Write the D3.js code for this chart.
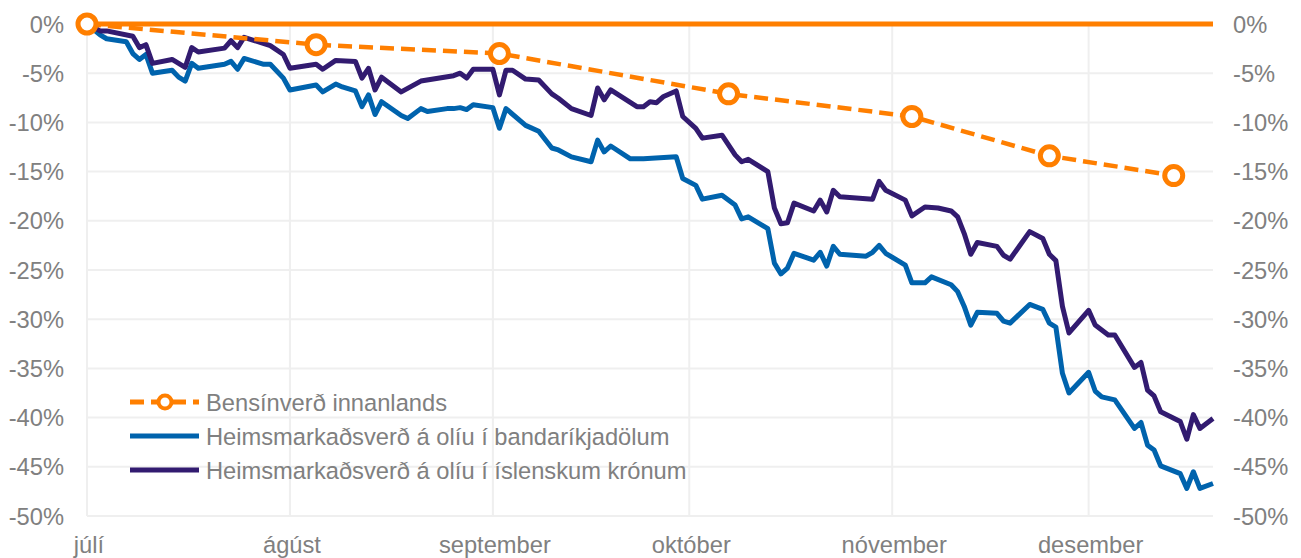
<!DOCTYPE html>
<html lang="is">
<head>
<meta charset="UTF-8">
<title>Olíuverð og bensínverð</title>
<script src="https://cdn.jsdelivr.net/npm/d3@7"></script>
<style>
  html, body { margin: 0; padding: 0; background: #fff; }
  svg { display: block; font-family: "Liberation Sans", Arial, sans-serif; }
  .lbl { fill: #808080; font-size: 23.7px; }
</style>
</head>
<body>
<div id="chart"></div>
<script>
// gögn lesin af myndinni (% breyting frá 1. júlí)
const year = 2014;
const monthLabels = ["júlí", "ágúst", "september", "október", "nóvember", "desember"];
const yTicks = [0, -5, -10, -15, -20, -25, -30, -35, -40, -45, -50];
const seriesNames = [
    "Bensínverð innanlands",
    "Heimsmarkaðsverð á olíu í bandaríkjadölum",
    "Heimsmarkaðsverð á olíu í íslenskum krónum"
];

const petrol = [
    ["07-01", 0], ["08-05", -2.1], ["09-02", -3.0], ["10-07", -7.1],
    ["11-04", -9.4], ["11-25", -13.4], ["12-14", -15.4]
];

const usd = [
    ["07-01", 0], ["07-03", -1.1], ["07-04", -1.5], ["07-07", -1.8], ["07-08", -3.0],
    ["07-09", -3.6], ["07-10", -3.1], ["07-11", -5.0], ["07-14", -4.7], ["07-15", -5.4],
    ["07-16", -5.8], ["07-17", -4.0], ["07-18", -4.5], ["07-22", -4.1], ["07-23", -3.8],
    ["07-24", -4.6], ["07-25", -3.5], ["07-28", -4.1], ["07-29", -4.1], ["07-31", -5.5],
    ["08-01", -6.7], ["08-05", -6.2], ["08-06", -6.9], ["08-08", -6.1], ["08-09", -6.4],
    ["08-11", -6.8], ["08-12", -8.4], ["08-13", -7.2], ["08-14", -9.2], ["08-15", -7.9],
    ["08-18", -9.3], ["08-19", -9.6], ["08-21", -8.6], ["08-22", -8.9], ["08-25", -8.6],
    ["08-26", -8.6], ["08-27", -8.5], ["08-28", -8.7], ["08-29", -8.2],
    ["09-01", -8.5], ["09-02", -10.6], ["09-03", -8.6], ["09-06", -10.3], ["09-08", -10.9],
    ["09-10", -12.6], ["09-11", -12.8], ["09-13", -13.5], ["09-16", -14.0], ["09-17", -11.8],
    ["09-18", -13.0], ["09-19", -12.4], ["09-22", -13.7], ["09-24", -13.7], ["09-29", -13.5],
    ["09-30", -15.7],
    ["10-02", -16.4], ["10-03", -17.8], ["10-06", -17.4], ["10-08", -18.4], ["10-09", -19.8],
    ["10-10", -19.6], ["10-13", -20.8], ["10-14", -24.3], ["10-15", -25.4], ["10-16", -24.8],
    ["10-17", -23.3], ["10-20", -24.0], ["10-21", -23.2], ["10-22", -24.6], ["10-23", -22.6],
    ["10-24", -23.4], ["10-28", -23.6], ["10-29", -23.2], ["10-30", -22.5], ["10-31", -23.3],
    ["11-03", -24.5], ["11-04", -26.3], ["11-06", -26.3], ["11-07", -25.7], ["11-10", -26.5],
    ["11-11", -27.2], ["11-12", -28.7], ["11-13", -30.6], ["11-14", -29.3], ["11-17", -29.4],
    ["11-18", -30.2], ["11-19", -30.4], ["11-22", -28.5], ["11-24", -29.0], ["11-25", -30.4],
    ["11-26", -30.8], ["11-27", -35.5], ["11-28", -37.5],
    ["12-01", -35.4], ["12-02", -37.3], ["12-03", -37.9], ["12-05", -38.2], ["12-08", -41.1],
    ["12-09", -40.5], ["12-10", -42.8], ["12-11", -43.3], ["12-12", -44.9], ["12-15", -45.7],
    ["12-16", -47.2], ["12-17", -45.5], ["12-18", -47.2], ["12-20", -46.7]
];

const isk = [
    ["07-01", 0], ["07-03", -0.7], ["07-04", -0.7], ["07-08", -1.25], ["07-09", -2.4],
    ["07-10", -2.1], ["07-11", -4.0], ["07-14", -3.6], ["07-16", -4.4], ["07-17", -2.4],
    ["07-18", -2.85], ["07-22", -2.45], ["07-23", -1.7], ["07-24", -2.4], ["07-25", -1.35],
    ["07-29", -2.2], ["07-31", -3.1],
    ["08-01", -4.5], ["08-05", -4.1], ["08-06", -4.6], ["08-08", -3.7], ["08-11", -3.8],
    ["08-12", -5.5], ["08-13", -4.5], ["08-14", -6.7], ["08-15", -5.4], ["08-18", -6.9],
    ["08-21", -5.8], ["08-26", -5.25], ["08-27", -5.0], ["08-28", -5.5], ["08-29", -4.6],
    ["09-01", -4.6], ["09-02", -7.2], ["09-03", -4.7], ["09-04", -4.7], ["09-06", -5.6],
    ["09-08", -5.7], ["09-10", -7.1], ["09-11", -7.55], ["09-13", -8.6], ["09-16", -9.3],
    ["09-17", -6.5], ["09-18", -7.7], ["09-19", -6.7], ["09-23", -8.4], ["09-24", -8.4],
    ["09-25", -7.9], ["09-26", -8.0], ["09-27", -7.4], ["09-29", -6.8], ["09-30", -9.4],
    ["10-02", -10.6], ["10-03", -11.6], ["10-06", -11.3], ["10-08", -13.3], ["10-09", -14.0],
    ["10-10", -13.75], ["10-13", -15.0], ["10-14", -18.7], ["10-15", -20.3], ["10-16", -20.2],
    ["10-17", -18.2], ["10-20", -19.0], ["10-21", -17.9], ["10-22", -19.1], ["10-23", -16.9],
    ["10-24", -17.55], ["10-29", -17.8], ["10-30", -16.0], ["10-31", -16.9],
    ["11-03", -17.9], ["11-04", -19.5], ["11-06", -18.6], ["11-08", -18.7], ["11-10", -19.0],
    ["11-11", -19.6], ["11-12", -21.3], ["11-13", -23.4], ["11-14", -22.2], ["11-17", -22.6],
    ["11-18", -23.5], ["11-19", -23.9], ["11-22", -21.1], ["11-24", -21.8], ["11-25", -23.4],
    ["11-26", -24.05], ["11-27", -28.7], ["11-28", -31.4],
    ["12-01", -29.1], ["12-02", -30.6], ["12-04", -31.6], ["12-05", -31.6], ["12-08", -34.9],
    ["12-09", -34.4], ["12-10", -37.2], ["12-11", -37.8], ["12-12", -39.4], ["12-15", -40.4],
    ["12-16", -42.2], ["12-17", -39.7], ["12-18", -41.1], ["12-20", -40.1]
];

const orange = "#ff7f00", blue = "#0063ad", purple = "#321b70";

const width = 1301, height = 558;
const margin = {top: 24, right: 88, bottom: 42, left: 87};

const parse = s => d3.timeParse("%Y-%m-%d")(`${year}-${s}`);
const toPts = arr => arr.map(([d, v]) => ({date: parse(d), value: v}));

const x = d3.scaleTime()
    .domain([parse("07-01"), parse("12-20")])
    .range([margin.left, width - margin.right]);

const y = d3.scaleLinear()
    .domain([-50, 0])
    .range([height - margin.bottom, margin.top]);

const svg = d3.select("#chart").append("svg")
    .attr("width", width)
    .attr("height", height)
    .attr("viewBox", [0, 0, width, height]);

const months = d3.timeMonth.range(parse("07-01"), parse("12-20"));

// hnitanet
svg.append("g")
    .selectAll("line")
    .data(yTicks.filter(v => v !== 0))
    .join("line")
    .attr("x1", margin.left).attr("x2", width - margin.right)
    .attr("y1", d => y(d)).attr("y2", d => y(d))
    .attr("stroke", "#efefef").attr("stroke-width", 2);

svg.append("g")
    .selectAll("line")
    .data(months)
    .join("line")
    .attr("x1", d => x(d)).attr("x2", d => x(d))
    .attr("y1", y(0)).attr("y2", y(-50))
    .attr("stroke", "#efefef").attr("stroke-width", 2);

// ásar
svg.append("g")
    .selectAll("text")
    .data(yTicks)
    .join("text")
    .attr("class", "lbl")
    .attr("x", margin.left - 23)
    .attr("y", d => y(d))
    .attr("dy", "0.36em")
    .attr("text-anchor", "end")
    .text(d => `${d}%`);

svg.append("g")
    .selectAll("text")
    .data(yTicks)
    .join("text")
    .attr("class", "lbl")
    .attr("x", width - margin.right + 20)
    .attr("y", d => y(d))
    .attr("dy", "0.36em")
    .text(d => `${d}%`);

svg.append("g")
    .selectAll("text")
    .data(months)
    .join("text")
    .attr("class", "lbl")
    .attr("x", d => x(d) + 2)
    .attr("y", height - 5)
    .attr("text-anchor", "middle")
    .text((d, i) => monthLabels[i]);

// línur
const line = d3.line().x(d => x(d.date)).y(d => y(d.value));

svg.append("path")
    .datum(toPts(usd))
    .attr("fill", "none").attr("stroke", blue)
    .attr("stroke-width", 5).attr("stroke-linejoin", "round")
    .attr("d", line);

svg.append("path")
    .datum(toPts(isk))
    .attr("fill", "none").attr("stroke", purple)
    .attr("stroke-width", 5).attr("stroke-linejoin", "round")
    .attr("d", line);

svg.append("path")
    .datum(toPts(petrol))
    .attr("fill", "none").attr("stroke", orange)
    .attr("stroke-width", 4.5).attr("stroke-dasharray", "14,7")
    .attr("d", line);

// 0% lína
svg.append("line")
    .attr("x1", x.range()[0]).attr("x2", x.range()[1])
    .attr("y1", y(0)).attr("y2", y(0))
    .attr("stroke", orange).attr("stroke-width", 4.8);

svg.append("g")
    .selectAll("circle")
    .data(toPts(petrol))
    .join("circle")
    .attr("cx", d => x(d.date)).attr("cy", d => y(d.value))
    .attr("r", 9)
    .attr("fill", "#fff").attr("stroke", orange).attr("stroke-width", 5);

// skýringar
const legend = svg.append("g").attr("transform", "translate(130,402)");
const rowH = 34;
seriesNames.forEach((name, i) => {
    const g = legend.append("g").attr("transform", `translate(0,${i * rowH})`);
    const col = [orange, blue, purple][i];
    g.append("line")
        .attr("x1", 0).attr("x2", 69)
        .attr("stroke", col).attr("stroke-width", 4.8)
        .attr("stroke-dasharray", i === 0 ? "14,7" : null);
    if (i === 0) {
        g.append("circle").attr("cx", 35).attr("r", 6.5)
            .attr("fill", "#fff").attr("stroke", col).attr("stroke-width", 4);
    }
    g.append("text")
        .attr("class", "lbl")
        .attr("x", 76)
        .attr("dy", "0.36em")
        .text(name);
});
</script>
</body>
</html>
